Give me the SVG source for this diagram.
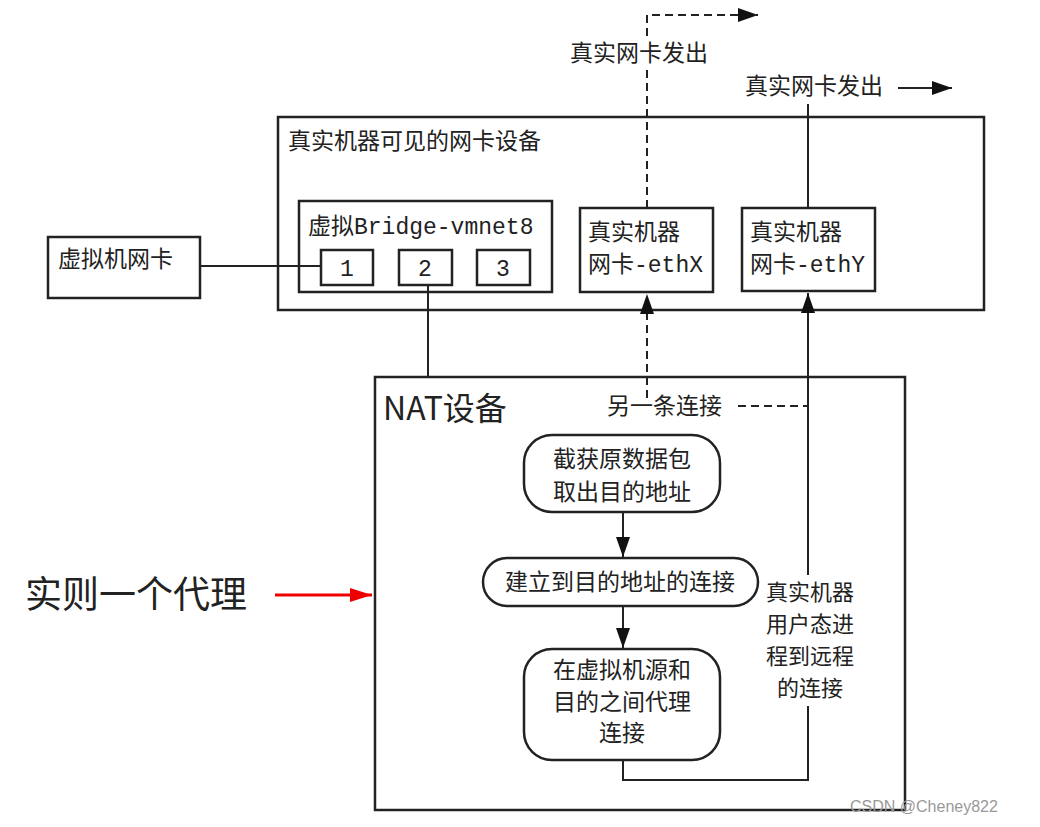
<svg xmlns="http://www.w3.org/2000/svg" width="1040" height="827" viewBox="0 0 1040 827">
<style>
.b{fill:#fff;stroke:#222;stroke-width:2.5}
.l{fill:none;stroke:#222;stroke-width:2}
.d{fill:none;stroke:#222;stroke-width:2;stroke-dasharray:8,5}
text{font-family:"Noto Sans CJK SC","Liberation Serif",serif;fill:#222;font-size:23px}
.m{font-family:"Liberation Mono","Noto Sans CJK SC",monospace}
.v{font-size:22px}
</style>
<defs>
<marker id="A" viewBox="0 0 10 10" refX="10" refY="5" markerWidth="20" markerHeight="14" markerUnits="userSpaceOnUse" orient="auto" preserveAspectRatio="none"><path d="M0,0L10,5L0,10z" fill="#111"/></marker>
<marker id="R" viewBox="0 0 10 10" refX="10" refY="5" markerWidth="22" markerHeight="14" markerUnits="userSpaceOnUse" orient="auto" preserveAspectRatio="none"><path d="M0,0L10,5L0,10z" fill="#e00"/></marker>
</defs>
<rect width="1040" height="827" fill="#fff"/>
<g id="top"><rect class="b" x="278" y="117" width="706" height="193"/><text x="288" y="149">真实机器可见的网卡设备</text></g>
<g id="bridge"><rect class="b" x="299" y="201" width="253" height="91"/><text x="308" y="234">虚拟<tspan class="m">Bridge-vmnet8</tspan></text></g>
<g id="p1"><rect class="b" x="321" y="250" width="52" height="35"/><text x="347" y="276" text-anchor="middle" class="m">1</text></g>
<g id="p2"><rect class="b" x="399" y="250" width="53" height="35"/><text x="425" y="276" text-anchor="middle" class="m">2</text></g>
<g id="p3"><rect class="b" x="477" y="250" width="53" height="35"/><text x="503" y="276" text-anchor="middle" class="m">3</text></g>
<g id="vm"><rect class="b" x="48" y="237" width="152" height="61"/><text x="58" y="267">虚拟机网卡</text></g>
<g id="ethX"><rect class="b" x="580" y="208" width="133" height="84"/><text x="588" y="240">真实机器</text><text x="588" y="272">网卡<tspan class="m">-ethX</tspan></text></g>
<g id="ethY"><rect class="b" x="742" y="208" width="133" height="83"/><text x="750" y="240">真实机器</text><text x="750" y="272">网卡<tspan class="m">-ethY</tspan></text></g>
<g id="nat"><rect class="b" x="375" y="377" width="530" height="433"/><text x="383" y="420" style="font-size:32px">NAT设备</text></g>
<g id="s1"><rect class="b" x="524" y="435" width="196" height="77" rx="28"/><text x="622" y="467" text-anchor="middle">截获原数据包</text><text x="622" y="500" text-anchor="middle">取出目的地址</text></g>
<g id="s2"><rect class="b" x="483" y="558" width="275" height="48" rx="24"/><text x="620" y="590" text-anchor="middle">建立到目的地址的连接</text></g>
<g id="s3"><rect class="b" x="524" y="649" width="196" height="111" rx="28"/><text x="622" y="678" text-anchor="middle">在虚拟机源和</text><text x="622" y="710" text-anchor="middle">目的之间代理</text><text x="622" y="741" text-anchor="middle">连接</text></g>
<g id="labels">
<text x="570" y="61">真实网卡发出</text>
<text x="745" y="94">真实网卡发出</text>
<text x="607" y="414">另一条连接</text>
<text class="v" x="810" y="600" text-anchor="middle">真实机器</text>
<text class="v" x="810" y="632" text-anchor="middle">用户态进</text>
<text class="v" x="810" y="664" text-anchor="middle">程到远程</text>
<text class="v" x="810" y="696" text-anchor="middle">的连接</text>
<text x="25" y="608" style="font-size:37px">实则一个代理</text>
<text x="850" y="812" style="font-size:16px;fill:#999;font-family:'Liberation Sans',sans-serif">CSDN @Cheney822</text>
</g>
<g id="connectors">
<path class="l" d="M200,266H321"/>
<path class="l" d="M428,285V377"/>
<path class="d" d="M647,208V70"/>
<path class="d" d="M647,36V15H758" marker-end="url(#A)"/>
<path class="l" d="M808,208V104"/>
<path class="l" d="M898,88H952" marker-end="url(#A)"/>
<path class="d" d="M647,398V294" marker-end="url(#A)"/>
<path class="d" d="M738,406H808"/>
<path class="l" d="M808,575V293" marker-end="url(#A)"/>
<path class="l" d="M623,760V780H808V706"/>
<path class="l" d="M623,512V557" marker-end="url(#A)"/>
<path class="l" d="M623,606V648" marker-end="url(#A)"/>
<path fill="none" stroke="#e00" stroke-width="3" d="M275,595H372" marker-end="url(#R)"/>
</g>
</svg>
